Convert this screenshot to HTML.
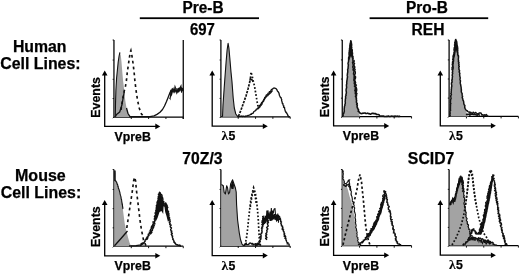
<!DOCTYPE html>
<html><head><meta charset="utf-8"><title>Figure</title>
<style>
html,body{margin:0;padding:0;background:#fff;width:520px;height:274px;overflow:hidden;}
svg{display:block;filter:blur(0.35px);}
text{font-family:"Liberation Sans", sans-serif;font-weight:bold;fill:#000;stroke:#000;stroke-width:0.25px;}
.hd{font-size:15.6px;}
.sd{font-size:15.7px;}
.ev{font-size:12.4px;text-anchor:middle;}
.lb{font-size:12.3px;}
.lam{font-family:"Liberation Serif",serif;font-size:13.5px;stroke-width:0.1px;}
.fr{fill:none;stroke:#000;stroke-width:1.25;}
.tk{fill:none;stroke:#111;stroke-width:1;}
.ax{fill:none;stroke:#000;stroke-width:1.3;}
.ah{fill:#000;stroke:none;}
.gf{fill:#a3a3a3;stroke:none;}
.bf{fill:#111;stroke:none;}
.gl{fill:none;stroke:#111;stroke-width:1.1;stroke-linejoin:round;}
.sl{fill:none;stroke:#111;stroke-width:1.3;stroke-linejoin:round;}
.sl2{fill:none;stroke:#111;stroke-width:1.5;stroke-linejoin:round;}
.br{fill:none;stroke:#111;stroke-width:1.05;stroke-linejoin:miter;}
.sl3{fill:none;stroke:#111;stroke-width:1.6;stroke-linejoin:round;}
.sn{fill:none;stroke:#111;stroke-width:1.4;stroke-linejoin:round;}
.dl{fill:none;stroke:#111;stroke-width:1.65;stroke-dasharray:2.8 3.1;}
.dl2{fill:none;stroke:#111;stroke-width:1.7;stroke-dasharray:2.4 2.3;}
.dd{fill:none;stroke:#111;stroke-width:1.7;stroke-dasharray:2.4 1.1;}
.ol{fill:none;stroke:#111;stroke-width:1.7;stroke-dasharray:1.7 1.9;}
.ol2{fill:none;stroke:#111;stroke-width:1.7;stroke-dasharray:1.7 1.9;}
</style></head>
<body><svg width="520" height="274" viewBox="0 0 520 274">
<text x="182.45" y="13.4" class="hd" textLength="41.22" lengthAdjust="spacingAndGlyphs">Pre-B</text>
<text x="405.92" y="13.4" class="hd" textLength="42.1" lengthAdjust="spacingAndGlyphs">Pro-B</text>
<text x="189.97" y="35" class="hd" textLength="24.97" lengthAdjust="spacingAndGlyphs">697</text>
<text x="411.55" y="34.7" class="hd" textLength="32.97" lengthAdjust="spacingAndGlyphs">REH</text>
<text x="182.37" y="164.3" class="hd" textLength="40.2" lengthAdjust="spacingAndGlyphs">70Z/3</text>
<text x="407.87" y="163.6" class="hd" textLength="46.52" lengthAdjust="spacingAndGlyphs">SCID7</text>
<rect x="139.8" y="17.3" width="119.2" height="1.8" fill="#000"/>
<rect x="369.6" y="17.3" width="118.6" height="1.8" fill="#000"/>
<text x="12.9" y="51.9" class="sd" textLength="53.6" lengthAdjust="spacingAndGlyphs">Human</text>
<text x="0.2" y="69.1" class="sd" textLength="80.4" lengthAdjust="spacingAndGlyphs">Cell Lines:</text>
<text x="15" y="180.6" class="sd" textLength="50.8" lengthAdjust="spacingAndGlyphs">Mouse</text>
<text x="0.8" y="197.7" class="sd" textLength="80.4" lengthAdjust="spacingAndGlyphs">Cell Lines:</text>
<path d="M113.95,40 V117 H183.25" class="fr"/>
<path d="M183.25,40 V119" class="fr"/>
<path d="M131.28,117 v2" class="tk"/>
<path d="M148.6,117 v2" class="tk"/>
<path d="M165.93,117 v2" class="tk"/>
<path d="M183.25,117 v2" class="tk"/>
<path d="M113.95,117 l-1.2,1.2" class="tk"/>
<path d="M113.95,40 h-1.3" class="tk"/>
<path d="M113.95,60.05 h-1.3" class="tk"/>
<path d="M113.95,79.3 h-1.3" class="tk"/>
<path d="M113.95,98.55 h-1.3" class="tk"/>
<path d="M104.7,74.6 V126.4 H156.3" class="ax"/>
<path d="M104.7,70.6 l-2.8,5 h5.6 z" class="ah"/>
<path d="M160.3,126.4 l-5,-2.8 v5.6 z" class="ah"/>
<text x="99.8" y="97.4" class="ev" transform="rotate(-90 99.8 97.4)">Events</text>
<text x="114.55" y="140.9" class="lb">VpreB</text>
<polygon points="115.3,117 115.5,104 115.9,90 116.6,78 117.4,70 118.2,62 119.1,56 119.9,52.3 120.8,55.5 121.5,62 122.3,72 123,80 124.2,90 125.2,100 126.5,108 128,113.5 130,117" class="gf"/>
<polyline points="115.3,117 115.5,104 115.9,90 116.6,78 117.4,70 118.2,62 119.1,56 119.9,52.3" class="gl"/>
<polyline points="115.5,116.5 116.5,114.5 119.7,112 121.9,105 124.2,92" class="sl"/>
<polyline points="126.5,108 128,113.5 130,116.7 150,116.6 154,115.8 157,114.4 160,112.3 162.5,109.5 164.5,106 166.5,101.5 168.3,97 170,92.5 171.5,89.5" class="sl"/>
<polyline points="169.5,97.88 169.71,98.17 169.93,97.98 170.14,98.47 170.36,96.44 170.57,97.18 170.79,90.18 171,92.75 171.3,95.69 171.6,93.07 171.9,94.39 172.2,88.22 172.5,90.28 173.12,88.55 173.75,90.57 174.38,90.66 175,86.49 175.6,88.06 176.2,88.61 176.8,93.3 177.4,92.31 178,88.05 178.6,92.44 179.2,87.5 179.8,90.75 180.4,87.01 181,85.91 181.55,92.55 182.1,88.16 182.65,88.58 183.2,91" class="br"/>
<polyline points="170.5,96.47 170.83,95.94 171.17,93.59 171.5,91.81 171.83,89.84 172.17,92.48 172.5,90.85 173.2,92.2 173.9,90.17 174.6,92.05 175.3,89.46 176,92.01 176.8,91.55 177.6,89.87 178.4,90.39 179.2,91.01 180,88.46 180.8,90.39 181.6,91.78 182.4,89.2 183.2,90.5" class="br"/>
<polyline points="121,110 122.5,100 124,92 125.5,86 126.5,80 127.3,72 128.5,64 129.5,57 130.3,52 130.9,50.5 131.8,55 133,63 134.1,72 134.8,80 136,90 137.5,100 139.2,108 141.5,114 144,117" class="dl"/>
<path d="M220.9,40 V116.8 H290.2" class="fr"/>
<path d="M238.22,116.8 v2" class="tk"/>
<path d="M255.55,116.8 v2" class="tk"/>
<path d="M272.88,116.8 v2" class="tk"/>
<path d="M290.2,116.8 v2" class="tk"/>
<path d="M220.9,116.8 l-1.2,1.2" class="tk"/>
<path d="M220.9,40 h-1.3" class="tk"/>
<path d="M220.9,60 h-1.3" class="tk"/>
<path d="M220.9,79.2 h-1.3" class="tk"/>
<path d="M220.9,98.4 h-1.3" class="tk"/>
<path d="M212.2,74.6 V126.2 H263.8" class="ax"/>
<path d="M212.2,70.6 l-2.8,5 h5.6 z" class="ah"/>
<path d="M267.8,126.2 l-5,-2.8 v5.6 z" class="ah"/>
<text x="221.5" y="140.4" class="lam">λ</text>
<text x="228.4" y="140.4" class="lb">5</text>
<polygon points="222.5,116.8 223,105 223.9,92 224.9,78 226.1,62 227.1,50 228.1,43.4 228.9,48 229.8,58 231,72 232,82 233.2,98 234.3,108 235.8,114 238,116.8" class="gf"/>
<polyline points="222.5,116.8 223,105 223.9,92 224.9,78 226.1,62 227.1,50 228.1,43.4 228.9,48 229.8,58 231,72 232,82 233.2,98 234.3,108 235.8,114 238,116.8 242,116.3" class="gl"/>
<polyline points="239.99,116.17 240.83,116.37 241.65,116.03 242.51,116.59 243.32,116.03 244.17,116.28 245.1,116.57 245.81,115.88 246.78,116.14 247.56,115.7 248.35,115.31 249.2,115.15 250.04,114.86 250.59,114.23 251.59,114.23 251.95,113.33 252.92,113.29 253.52,112.73 253.7,111.7 254.43,111.26 255.15,110.82 255.95,110.45 256.13,109.46 256.99,109.16 257.4,108.43 258.21,107.99 258.81,107.4 259.19,106.64 259.28,105.67 260.19,105.31 260.45,104.47 261.26,103.86 261.48,102.89 262.31,102.29 262.87,101.53 263.24,100.66 263.74,99.91 264.24,99.16 264.57,98.3 264.76,97.34 265.86,96.99 265.98,95.98 266.27,95.02 267.16,94.56 267.74,93.85 268.2,93.02 269.29,92.79 269.35,91.65 270.46,91.56 270.83,90.73 271.2,89.9 271.93,89.39 272.81,88.9 273.47,88.08 274.42,88.02 275.45,88.28 276.12,88.72 276.64,89.35 277.08,90.03 277.31,90.82 277.76,91.49 278.38,92.05 278.8,92.85 279.15,93.67 279.24,94.6 279.48,95.48 279.89,96.28 280.21,97.1 281.19,97.72 281.14,98.69 281.71,99.45 281.57,100.45 281.86,101.31 282.16,102.16 282.2,103.11 283.02,103.7 282.88,104.64 283.28,105.38 283.89,106.05 283.52,107.08 284.59,107.58 284.53,108.49 284.8,109.26 285.09,110.03 285.1,110.93 285.79,111.52 285.85,112.39 286.66,112.91 286.91,113.69 287.58,114.24 287.59,115.16 288.16,115.77 288.45,116.75 290,116.8" class="sl"/>
<polyline points="258.18,109.3 257.95,108.09 258.98,107.87 259.29,107.09 260.15,106.74 260.23,105.78 261.15,105.43 260.97,104.34 262.11,104.14 262.08,103.15 262.34,102.36 262.92,101.78 263.61,101.27 263.62,100.2 264.41,99.67 264.6,98.72 265.14,98.02 265.73,97.35 266.29,96.63 266.93,95.94 267.91,95.54 268.24,94.59 269.17,94.15 269.77,93.49 270.37,92.93 271.01,92.41 271.35,91.58 272.02,91.09 272.5,90.4" class="sn"/>
<polyline points="238.5,116.3 241,110 243.5,103 246,96 248,89 249.5,83 250.5,78" class="dd"/>
<polyline points="250.5,78 251,72 252.2,76 253,80 254.5,86 255.5,92 256.5,98 257.5,104 258.5,108" class="ol"/>
<polyline points="249.5,80 252,79.5 253,82" class="sl"/>
<path d="M342.25,40 V116.5 H411.55" class="fr"/>
<path d="M359.57,116.5 v2" class="tk"/>
<path d="M376.9,116.5 v2" class="tk"/>
<path d="M394.23,116.5 v2" class="tk"/>
<path d="M411.55,116.5 v2" class="tk"/>
<path d="M342.25,116.5 l-1.2,1.2" class="tk"/>
<path d="M342.25,40 h-1.3" class="tk"/>
<path d="M342.25,59.92 h-1.3" class="tk"/>
<path d="M342.25,79.05 h-1.3" class="tk"/>
<path d="M342.25,98.17 h-1.3" class="tk"/>
<path d="M333.6,74.6 V125.9 H385.2" class="ax"/>
<path d="M333.6,70.6 l-2.8,5 h5.6 z" class="ah"/>
<path d="M389.2,125.9 l-5,-2.8 v5.6 z" class="ah"/>
<text x="328.7" y="96.9" class="ev" transform="rotate(-90 328.7 96.9)">Events</text>
<text x="342.85" y="140.4" class="lb">VpreB</text>
<polygon points="342.9,116.5 343.6,113 344.3,110 345.5,100 346.7,85 347.5,75 348.4,62 349.3,52 350,45 350.8,40.5 351.6,45 352.4,54 353.1,65 354.1,77 355,87 356,97 357.2,106 358.4,111.5 360,116.5" class="gf"/>
<polygon points="348.9,61 349.5,50 350.2,42 350.8,40 351.5,42 352.2,50 352.9,61 351,56" class="bf"/>
<polyline points="342.8,116.48 343.2,115.35 343.08,114.11 343.88,113.07 344.02,112.04 344.36,111.07 344.16,109.98 344.23,109.07 344.25,108.15 344.44,107.25 344.45,106.33 344.96,105.47 344.87,104.54 345.25,103.66 345.33,102.75 345.19,101.81 345.19,100.89 345.41,99.99 345.29,99.04 345.74,98.13 345.54,97.17 345.59,96.23 346.11,95.33 345.91,94.37 346.29,93.46 346.39,92.52 346.27,91.57 346.1,90.61 346.11,89.67 346.25,88.74 346.62,87.82 346.56,86.88 346.5,85.93 346.41,84.98 346.68,84.08 346.78,83.18 346.66,82.25 346.84,81.35 346.94,80.44 347.09,79.54 347.21,78.64 347.32,77.73 347.56,76.83 347.3,75.9 347.26,74.98 347.45,74.06 347.46,73.13 347.74,72.22 347.74,71.28 347.71,70.35 347.64,69.41 348.1,68.51 348.09,67.58 348.15,66.65 348.26,65.72 348.42,64.8 347.99,63.84 348.15,62.92 348.38,62 348.6,61.1 348.57,60.18 348.65,59.27 348.61,58.35 348.66,57.44 349.11,56.57 349.26,55.66 349.05,54.73 349.12,53.82 349,52.89 349.36,52.01 349.23,50.98 349.57,50.01 349.47,48.99 349.68,48 350.02,47.02 349.79,45.99 350.02,45 350.05,44.08 350.31,43.2 350.7,42.34 350.64,41.4 350.8,40.5" class="sl2"/>
<polyline points="351.22,40.43 350.87,41.42 350.64,42.39 351.43,43.17 351.4,44.11 351.73,44.99 351.43,45.84 351.56,46.65 351.72,47.46 351.42,48.31 351.76,49.11 352.19,49.9 352.23,50.72 352.05,51.56 352.06,52.38 352.6,53.16 352.09,54.02 352.51,54.84 352.24,55.71 352.97,56.51 352.8,57.37 353.15,58.2 352.81,59.07 353.02,59.91 352.98,60.76 353.16,61.6 352.59,62.48 352.86,63.32 353.2,64.14 353.1,65 353.48,65.77 352.79,66.64 352.9,67.43 353.3,68.21 353.78,68.97 353.05,69.84 353.85,70.58 354.08,71.36 353.78,72.19 353.89,72.99 353.48,73.83 354.25,74.57 354.4,75.36 354.09,76.2 354.56,76.96 354.01,77.85 354.26,78.67 353.95,79.53 353.97,80.37 354.74,81.14 354.26,82.03 354.63,82.83 354.25,83.71 355.19,84.46 354.89,85.33 354.45,86.21 355.44,86.96 355.28,87.81 355.36,88.65 355.39,89.49 354.84,90.38 355.72,91.14 355.18,92.03 355.82,92.81 355.29,93.7 356.1,94.46 356.23,95.29 355.43,96.22 356.48,96.94 355.97,97.84 356.51,98.6 356.25,99.46 356.62,100.25 356.42,101.11 356.48,101.93 356.52,102.76 357.25,103.5 356.66,104.41 357.35,105.15 357.11,106.02 357.12,106.91 357.37,107.74 357.82,108.51 358.07,109.33 358.62,110.08 358.21,111.24 359.18,111.96 359.92,113.06 360.87,113.55 362.01,113.6 362.79,113.16 363.6,113.3 364.38,112.95 365.19,113.02 365.95,113.55 366.78,113.49 367.65,113.11 368.4,113.58 369.21,113.59 370.02,114.12 370.82,114.09 371.59,113.57 372.38,113.26 373.18,113.33 373.98,113.66 374.83,113.67 375.71,113.55 376.34,114.44 377.17,114.51 378.09,114.45 379,114.68 379.58,115.43 380.2,116.1 381,116.06 381.83,116.11 382.65,116.04 383.48,116.03 384.3,116.5 385.13,116.5 385.96,116.5 386.78,116.32 387.61,116.35 388.43,116.01 389.26,116.5 390.09,116.5 390.91,116.19 391.74,116.11 392.57,116.28 393.39,116.38 394.22,116.5 395.04,116.07 395.87,116.5 396.7,116.24 397.52,116.15 398.35,116.5 399.17,116.15 400,116.5" class="sl3"/>
<polyline points="353.88,59.98 354.26,61.15 353.56,62.42 354.58,63.54 353.94,64.8 354.31,65.98 354.9,67.14 354.29,68.4 355.14,69.54 354.61,70.79 355.29,71.94 355.35,73.15 354.92,74.39 354.38,75.64 355.6,76.75 355.54,77.96 355,79.22 354.59,80.46 355.28,81.61 355.66,82.79 354.84,84.07 356.43,85.13 355.25,86.45 356.27,87.57 356.61,88.75 356.76,89.94 356.57,91.17 355.87,92.45 356.99,93.55 356.46,94.81 356.7,96" class="sn"/>
<path d="M449.1,40 V116.4 H518.4" class="fr"/>
<path d="M466.43,116.4 v2" class="tk"/>
<path d="M483.75,116.4 v2" class="tk"/>
<path d="M501.08,116.4 v2" class="tk"/>
<path d="M518.4,116.4 v2" class="tk"/>
<path d="M449.1,116.4 l-1.2,1.2" class="tk"/>
<path d="M449.1,40 h-1.3" class="tk"/>
<path d="M449.1,59.9 h-1.3" class="tk"/>
<path d="M449.1,79 h-1.3" class="tk"/>
<path d="M449.1,98.1 h-1.3" class="tk"/>
<path d="M440.3,74.6 V125.8 H491.9" class="ax"/>
<path d="M440.3,70.6 l-2.8,5 h5.6 z" class="ah"/>
<path d="M495.9,125.8 l-5,-2.8 v5.6 z" class="ah"/>
<text x="449.1" y="140" class="lam">λ</text>
<text x="456" y="140" class="lb">5</text>
<polygon points="449.8,116.4 450.2,112 450.8,100 451.4,88 452,80 452.7,70 453.4,60 454.2,50 454.8,44 455.6,39.8 456.6,42 457.5,50 458.4,60 459.2,70 460,80 461,90 462.8,100 465.3,110 468.5,116.4" class="gf"/>
<polygon points="453.6,60 454.4,48 455,43 455.6,39.5 456.8,41.5 457.6,50 458.2,58 456,50 455,56" class="bf"/>
<polyline points="449.61,116.38 450.22,115.33 449.74,114.18 450.24,113.11 449.91,111.99 450.07,111.07 450.64,110.17 450.14,109.22 450.48,108.31 450.4,107.38 450.44,106.46 450.52,105.54 450.35,104.6 450.85,103.7 450.37,102.75 450.52,101.84 450.42,100.91 450.64,99.99 450.78,99.07 451.17,98.17 450.85,97.23 450.71,96.29 450.86,95.38 451.42,94.48 450.82,93.52 451.25,92.62 451.13,91.69 451.37,90.77 451.19,89.84 451.49,88.93 451.4,88 451.58,87.01 451.83,86.02 451.68,85 451.45,83.98 451.47,82.98 452.16,82.02 451.92,81 451.79,79.99 452.38,79.11 452.18,78.19 452.35,77.28 452.52,76.38 452.17,75.44 452.28,74.54 452.71,73.65 452.25,72.71 452.76,71.83 452.36,70.89 452.83,70.01 452.9,69.1 453.14,68.2 453.13,67.29 452.96,66.36 452.81,65.44 452.84,64.53 453.17,63.64 453.22,62.73 452.97,61.8 453.62,60.93 453.41,60 453.61,59.1 453.35,58.17 453.44,57.26 453.35,56.34 453.65,55.45 453.67,54.53 453.86,53.63 453.9,52.72 454.29,51.84 454.4,50.93 453.97,49.98 454.23,48.99 454.17,47.98 454.61,47.01 454.93,46.03 454.49,44.98 454.98,44.03 454.82,43.08 454.78,42.14 455.46,41.33 455.33,40.38 455.81,39.41 456.01,40.32 456.51,41.09 456.76,41.99 456.85,43 456.98,43.99 456.98,45.01 457.3,45.98 457.54,46.97 457.66,47.97 457.76,48.97 457.59,50 457.78,50.9 457.55,51.84 457.84,52.73 457.78,53.65 457.67,54.58 458.4,55.43 458.51,56.33 458.51,57.25 458.42,58.17 458.37,59.1 458.33,60.01 458.68,60.9 458.32,61.84 459.07,62.7 458.56,63.66 459.07,64.53 458.67,65.48 459.33,66.34 458.76,67.3 458.97,68.2 458.89,69.12 459.24,70 459.6,70.89 459.12,71.84 459.56,72.72 459.88,73.61 459.59,74.55 459.74,75.45 459.83,76.36 460.12,77.25 460.22,78.16 459.97,79.1 460.13,80 460.46,80.88 460.34,81.81 460.24,82.74 460.35,83.65 460.62,84.54 460.77,85.45 460.9,86.35 461.09,87.25 461.21,88.16 461.14,89.09 461.47,89.95 461.21,90.94 461.38,91.84 461.61,92.74 462.18,93.58 462.11,94.53 462.23,95.45 462.63,96.31 462.19,97.33 462.5,98.21 462.83,99.09 462.86,100.04 463.46,100.89 463.69,101.84 463.75,102.84 463.86,103.82 464.18,104.75 464.87,105.58 464.71,106.63 464.77,107.63 465.17,108.6 465.74,109.56 466.38,110.46 467.48,111.01 468,112" class="sl2"/>
<polyline points="452.06,70 452.01,69.2 452.2,68.41 451.98,67.58 452.53,66.82 452.61,66.02 452.54,65.21 452.22,64.38 452.58,63.6 452.49,62.79 452.5,61.98 453.16,61.17 453.29,60.3 452.64,59.33 453.39,58.53 453.28,57.63 453.21,56.74 453.23,55.86 453.5,55" class="sn"/>
<polyline points="468.03,111.93 468.85,112.09 469.79,111.99 469.96,113.65 470.84,112.33 471.75,113.18 472.63,113.84 473.11,112.1 473.97,112.9 474.68,113.27 475.79,112.43 476.33,113.32 477.04,114.2 477.74,113.63 478.54,114.1 479.18,112.89 480.18,113.01 481.02,113.04 481.5,114.06 481.96,115.12 482.96,114.78 483.63,115.31 484.55,114.72 485.14,115.6 486.27,114.55 486.89,115.18 487.38,116.18 488.09,116.4 489,116.4" class="sn"/>
<polyline points="465.96,114.28 466.74,114.55 467.6,114.23 468.4,114.32 469.22,114.23 469.92,115.29 470.75,114.24 471.48,114.08 472.18,114.33 472.9,114.4 473.6,114.58 474.32,114.56 475.06,114.38 475.74,114.79 476.46,114.84 477.13,115.32 477.9,114.81 478.64,114.67 479.33,114.96 480,115.5" class="sn"/>
<path d="M113.95,169.5 V246.2 H183.25" class="fr"/>
<path d="M131.28,246.2 v2" class="tk"/>
<path d="M148.6,246.2 v2" class="tk"/>
<path d="M165.93,246.2 v2" class="tk"/>
<path d="M183.25,246.2 v2" class="tk"/>
<path d="M113.95,246.2 l-1.2,1.2" class="tk"/>
<path d="M113.95,169.5 h-1.3" class="tk"/>
<path d="M113.95,189.48 h-1.3" class="tk"/>
<path d="M113.95,208.65 h-1.3" class="tk"/>
<path d="M113.95,227.83 h-1.3" class="tk"/>
<path d="M104.7,204.1 V255.8 H156.3" class="ax"/>
<path d="M104.7,200.1 l-2.8,5 h5.6 z" class="ah"/>
<path d="M160.3,255.8 l-5,-2.8 v5.6 z" class="ah"/>
<text x="99.8" y="226.6" class="ev" transform="rotate(-90 99.8 226.6)">Events</text>
<text x="114.55" y="270.1" class="lb">VpreB</text>
<polygon points="114.4,246.2 114.4,181 115.6,180.5 116.3,182.5 117.2,184 118.5,188 119.6,192 121,197 122.4,205 123.6,215 124.8,224 126.5,231.6 128.2,238 129.5,242.5 131,246.2" class="gf"/>
<polyline points="114.9,170.5 115,181" class="sl3"/>
<polyline points="114.8,180.93 115.3,180.88 115.8,181.19 116,181.03 116.2,181.56 116.4,182.15 116.6,182.06 116.8,183.02 117,183.68 117.2,184.41 117.4,183.93 117.56,184.72 117.71,184.93 117.87,186.43 118.03,186.77 118.19,186.36 118.34,188.18 118.5,188.65 118.64,188.72 118.78,189.16 118.91,189.02 119.05,189.32 119.19,190.54 119.32,190.38 119.46,191.07 119.6,191.64 119.74,191.84 119.88,192.95 120.02,193.42 120.16,194.48 120.3,194.53 120.44,195.2 120.58,195.5 120.72,196.23 120.86,196.44 121,196.69 121.09,198.2 121.17,198.69 121.26,198.98 121.35,199.29 121.44,199.24 121.53,199.62 121.61,200.2 121.7,200.4 121.79,201.87 121.88,201.86 121.96,202.99 122.05,202.84 122.14,204.14 122.23,204.49 122.31,203.8 122.4,204.59 122.48,206.07 122.55,205.96 122.62,207.17 122.7,206.86 122.78,206.9 122.85,208.18 122.92,208.89 123,209" class="gl"/>
<polyline points="127.5,231 121,238.5 114.5,245.7" class="sl"/>
<polyline points="129,245.8 136,245.6 141,244.8 144,243.5" class="sl"/>
<polyline points="139.97,245.57 140.63,245.41 141.12,245.03 141.06,243.99 141.41,243.44 142.25,243.51 142.62,242.99 143.64,243.27 144.04,242.69 144.33,242.1 144.67,241.56 145.2,241.16 144.96,240.15 145.73,239.94 145.78,239.16 147.11,239.41 146.37,238.19 147.72,238.18 146.92,237.12 148.07,237.01 147.83,236.22 148.2,235.72 149.09,235.49 148.18,234.37 148.5,233.86 150,233.92 149.68,233.09 149.35,232.25 150.93,232.27 151.09,231.67 150.05,230.62 150.73,230.21 150.52,229.46 151,228.98 151.68,228.57 151.21,227.73 152.23,227.44 151.48,226.5 151.87,225.98 153.06,225.76 152.65,224.96 152.84,224.38 153.28,223.88 153.26,223.24 153.29,222.62 152.91,221.88 154.15,221.6 154.69,221.12 154.87,220.54 154.55,219.82 154.25,219.1 154.42,218.52 155.1,218.06 155.19,217.44 154.42,216.66 154.73,216.08 155.05,215.5 155.39,214.93 155.98,214.4 155.61,213.69 154.98,212.94 156.35,212.56 155.84,211.83 156.1,211.24 155.75,210.53 156.19,209.98 156.23,209.33 156.95,208.8 156,207.98 156.82,207.47 156.34,206.73 157.26,206.23 156.33,205.42 156.82,204.85 157.04,204.23 157.61,203.67 156.8,202.87 157.55,202.39 157.26,201.72 157.49,201.14 157.9,200.59 158.77,200.13 158.13,199.39 158.99,198.93 157.86,198.1 159.16,197.72 158.39,196.95 158.25,196.27 159.26,195.84 159.66,195.27 158.38,194.33 158.93,193.8 159.85,193.34 159.32,192.57 159.7,192" class="sn"/>
<polyline points="159.99,191.83 159.85,192.76 160.23,193.38 160.41,194.13 161.62,194.38 161.74,195.01 162.03,195.58 162.1,196.23 161.6,197.04 162.59,197.41 162.22,198.18 162.83,198.67 162.9,199.31 162.89,199.98 162.46,200.69 162.89,201.23 163.83,201.67 163.59,202.34 163.89,202.9 163.01,203.7 163.21,204.29 163.34,204.88 163.43,205.49 164.31,206.15 164.86,205.68 164.97,204.98 164.6,204.05 165.64,203.82 165.52,202.99 165.63,203.86 166.29,204.38 166.9,204.98 167.11,205.59 167.15,206.23 167.43,206.82 167.83,207.39 166.99,208.21 167.14,208.83 167.01,209.51 167.54,210.04 167.83,210.61 167.66,211.26 168.6,211.72 167.96,212.44 168.38,212.99 168.85,213.53 168.91,214.13 168.57,214.81 169.04,215.34 168.86,215.99 168.75,216.62 169.14,217.18 169.61,217.72 169.21,218.4 169.67,218.94 169.77,219.54 169.92,220.13 169.78,220.77 170.29,221.3 169.59,222.04 169.3,222.72 170.19,223.17 169.86,223.86 169.69,224.52 171.03,224.87 171.01,225.5 170.22,226.28 170.3,226.89 170.69,227.44 171.47,227.93 171.21,228.62 170.67,229.35 170.74,229.99 170.94,230.61 171.87,231.12 171.06,231.89 171.81,232.43 171.43,233.13 172.32,233.66 171.26,234.46 171.86,235.03 171.85,235.7 172.69,236.16 172.29,236.91 172.49,237.53 172.63,238.15 173.09,238.7 172.74,239.45 173.41,239.92 173.73,240.55 174.16,241.15 173.74,242.07 174.75,242.44 174.7,242.97 175.4,243.16 175.56,244.2 176.21,244.47 176.8,244.82 177.76,244.59 178.01,245.42 178.63,245.36 179.28,245.09 179.89,245.05 180.31,246.2 181,245.9" class="sn"/>
<polygon points="159.7,191.5 161.3,194.5 162.8,200 163.6,206 163.2,214 161.5,211 159.5,212 157.5,218 155.5,222 154.8,218 156,210 157.3,203 158.5,196" class="bf"/>
<polygon points="165,203.5 166.3,202.5 167.3,206 168.3,212 169.4,220 168,222 166.5,216 165.2,212 164.5,207" class="bf"/>
<polyline points="149.92,233.76 151.05,233.52 151.22,232.89 151.9,232.47 151.16,231.46 151.39,230.85 152.35,230.54 152.48,229.9 152.21,229.08 153.02,228.71 152.84,227.95 153.62,227.54 152.82,226.61 153.18,226.06 154.41,225.8 153.78,224.93 153.84,224.28 154.86,223.95 154.8,223.27 154.27,222.42 155,222" class="sn"/>
<polyline points="126.8,228 128,220 129.5,210 131,200 132.5,190 133.6,181 134.6,177.3 135.6,181 136.4,190 137.6,200 138.8,210 140,220 141.5,230 143.5,240 146,245.7" class="dl"/>
<path d="M220.9,169.5 V246 H290.2" class="fr"/>
<path d="M238.22,246 v2" class="tk"/>
<path d="M255.55,246 v2" class="tk"/>
<path d="M272.88,246 v2" class="tk"/>
<path d="M290.2,246 v2" class="tk"/>
<path d="M220.9,246 l-1.2,1.2" class="tk"/>
<path d="M220.9,169.5 h-1.3" class="tk"/>
<path d="M220.9,189.43 h-1.3" class="tk"/>
<path d="M220.9,208.55 h-1.3" class="tk"/>
<path d="M220.9,227.68 h-1.3" class="tk"/>
<path d="M212.2,204.1 V255.6 H263.8" class="ax"/>
<path d="M212.2,200.1 l-2.8,5 h5.6 z" class="ah"/>
<path d="M267.8,255.6 l-5,-2.8 v5.6 z" class="ah"/>
<text x="221.5" y="269.6" class="lam">λ</text>
<text x="228.4" y="269.6" class="lb">5</text>
<polygon points="221.4,246 221.4,184.5 223.3,185.8 224.2,192.5 225.4,194 226.7,185.7 227.6,188 228.5,194 229.6,192.5 230.6,184 232.6,179.8 234,184 235.4,188 236.2,192 236.6,205 237.6,220 239.3,233 240.5,239.5 242,244 243.5,246" class="gf"/>
<polyline points="221.4,184.5 223.3,185.8 224.2,192.5 225.4,194 226.7,185.7 227.6,188 228.5,194 229.6,192.5 230.6,184 232.6,179.8 234,184 235.4,188 236.2,192 236.6,205 237.6,220 239.3,233 240.5,239.5 242,244 243.5,246" class="gl"/>
<polygon points="230.6,186 232.6,180.5 234,185 233.5,189 231.5,189" class="bf"/>
<polyline points="243.11,245.14 244.34,245.34 244.91,244.74 245.35,244 246.23,243.04 246.43,244.3 247.09,244.66 248.01,244.52 248.75,244.26 249.35,243.55 249.97,242.9 251.09,243.29 251.69,243.97 252.81,243.44 253.04,244.96 253.91,244.33 254.71,244.17 255.44,243.67 256.58,245.2 257.28,244.58 257.71,244.61 258.66,244.54 259.85,243.94 260.38,244.77 261,245.4" class="sn"/>
<polyline points="255.39,246 255.27,244.65 255.74,244.14 257.14,245.11 257.02,243.64 257.54,243.2 258.56,243.56 258.76,242.93 259.78,242.55 258.96,241.63 260.27,241.34 259.47,240.42 260.09,239.92 260.79,239.45 260.6,238.71 261.17,238.1 260.92,237.41 259.97,236.63 261.38,236.18 261.01,235.47 260.65,234.78 260.55,234.11 261.69,233.62 261.36,232.93 262.01,232.37 261.84,231.7 262.23,231.1 261.7,230.38 262,229.77 261.95,229.12 261.48,228.4 262.68,227.92 261.75,227.14 262.58,226.61 262.95,226.01 262.56,225.31 261.84,224.56 263.02,224.03 262.81,223.4 262.07,222.74 261.9,222.11 262.7,221.54 261.95,220.88 263.41,220.35 262.78,219.69 262.84,219.08 262.7,218.45 263.14,217.86 263.59,217.27 262.65,216.6 263,216" class="sn"/>
<polyline points="278.68,214.93 278.07,215.81 278.41,216.34 279.57,216.55 278.8,217.49 279.37,217.93 280.47,218.17 279.31,219.21 280.56,219.51 280.67,220.16 280.68,220.84 280.61,221.54 281.51,221.95 280.84,222.84 280.8,223.53 281.48,224 281.19,224.71 281.61,225.25 281.45,225.93 282.6,226.28 282.47,226.95 282.45,227.59 283.16,228.05 281.97,228.98 282.64,229.45 283.62,229.83 283.04,230.65 283.47,231.19 283.98,231.7 284.19,232.3 283.89,233.04 284.66,233.49 284.07,234.3 284.31,234.9 285.07,235.31 284.14,236.33 285.63,236.55 285.64,237.26 284.88,238.23 286,238.57 285.9,239.32 285.91,240.04 286.34,240.54 286.51,241.16 286.74,241.75 287.03,242.32 287.9,242.64 287.13,243.84 288.26,243.82 289.04,244.11 289.11,245.05 289.5,245.7" class="sn"/>
<polyline points="262.5,226.47 262.69,220.47 262.88,219.93 263.06,223.32 263.25,217.32 263.44,223.95 263.62,223.27 263.81,215.48 264,221.33 264.29,219.03 264.57,219.85 264.86,222.54 265.14,222.37 265.43,216.09 265.71,219.94 266,218.86 266.4,220.32 266.8,210.49 267.2,219.18 267.6,211.62 268,210.29 268.5,214.72 269,216.89 269.5,217.82 270,211.64 270.67,216.11 271.33,207.97 272,217.19 272.67,210.6 273.33,213.27 274,209.24 274.5,208.69 275,208.58 275.5,214.75 276,214.61 276.38,217.66 276.75,218.51 277.12,214.73 277.5,219.47 277.74,213.61 277.98,221.01 278.22,215.31 278.46,222.8 278.7,219" class="br"/>
<polyline points="263,224.04 263.3,223.86 263.6,225.1 263.9,219.22 264.2,217.76 264.5,222.52 264.8,218.53 265.1,218.26 265.4,220.8 265.7,215.83 266,220.37 266.57,217.08 267.14,213.79 267.71,219.35 268.29,216.58 268.86,212.77 269.43,217.73 270,216.92 270.67,216.76 271.33,216.27 272,218.7 272.67,211.92 273.33,218.74 274,216.5 274.5,214.15 275,217.04 275.5,215.49 276,218.05 276.5,218.8 277,217.92 277.5,215.32 278,218.5" class="br"/>
<polyline points="264,220.68 264.29,220.36 264.57,222.73 264.86,219.78 265.14,219.08 265.43,220.64 265.71,219.93 266,218.28 266.5,219.1 267,221.55 267.5,217.04 268,217.13 268.5,215.92 269,216.94 269.5,215.82 270,220.91 270.5,216.89 271,220.93 271.5,215.78 272,220.42 272.5,218.04 273,219.14 273.5,218.97 274,216.62 274.5,216.65 275,219.58 275.5,216.54 276,216.08 276.5,220.88 277,220.3 277.5,218.31 278,220" class="br"/>
<polyline points="264,222.38 264.25,220.39 264.5,224.01 264.75,219.18 265,220.58 265.25,218.88 265.5,219.07 265.75,223.17 266,215.83 266.4,218.31 266.8,216.3 267.2,217.05 267.6,221.99 268,216.38 268.4,218.36 268.8,216.61 269.2,218.84 269.6,216.33 270,213.86 270.5,215.97 271,215.76 271.5,218.84 272,217 272.5,214.07 273,217.89 273.5,214.89 274,216.6 274.4,214.51 274.8,216.29 275.2,219.54 275.6,217.63 276,219.77 276.4,220.05 276.8,218.95 277.2,219.66 277.6,217.93 278,219" class="br"/>
<polyline points="266.34,240.02 266.59,239.23 265.59,238.37 266.95,237.65 265.71,236.77 266.52,236.02 265.65,235.16 266.76,234.43 265.84,233.57 266.78,232.82 266.85,232.06 267.06,231.21 266.69,230.27 267.51,229.52 267.84,228.7 266.61,227.61 267.38,226.86 268.23,226.06 267.95,225.17 267.55,224.28 267.4,223.4 268.51,222.63 267.2,221.66 268.34,220.89 268,220" class="sn"/>
<polyline points="245,245.2 246.5,238 247.5,230 248.5,220 249.6,210 250.8,200 252.2,193 253.6,187.7 255.3,193 256.5,200 257.5,210 258.3,220 258.8,230 259.3,238 260,245.5" class="ol"/>
<polyline points="250.3,207 251.8,197 253.6,190 255.2,196 256.4,205" class="ol"/>
<path d="M342.25,169.5 V245.7 H411.55" class="fr"/>
<path d="M359.57,245.7 v2" class="tk"/>
<path d="M376.9,245.7 v2" class="tk"/>
<path d="M394.23,245.7 v2" class="tk"/>
<path d="M411.55,245.7 v2" class="tk"/>
<path d="M342.25,245.7 l-1.2,1.2" class="tk"/>
<path d="M342.25,169.5 h-1.3" class="tk"/>
<path d="M342.25,189.35 h-1.3" class="tk"/>
<path d="M342.25,208.4 h-1.3" class="tk"/>
<path d="M342.25,227.45 h-1.3" class="tk"/>
<path d="M333.6,204.1 V255.3 H385.2" class="ax"/>
<path d="M333.6,200.1 l-2.8,5 h5.6 z" class="ah"/>
<path d="M389.2,255.3 l-5,-2.8 v5.6 z" class="ah"/>
<text x="328.7" y="226.1" class="ev" transform="rotate(-90 328.7 226.1)">Events</text>
<text x="342.85" y="269.6" class="lb">VpreB</text>
<polygon points="342.4,245.7 342.4,172 343.4,172 343.8,181 345,184 346.5,186 348,190 349.5,196 351,201 352.4,205 354,215 355.3,225 356.3,234.5 357.6,241 358.8,243.5 360,245.7" class="gf"/>
<polyline points="342.55,170 342.92,170.78 343.3,171.55 342.63,172.42 343.23,173.17 343.24,173.97 343.14,174.79 342.92,175.61 342.58,176.45 343.28,177.2 342.71,178.06 342.81,179.06 343.81,179.97 344.05,180.75 344.42,181.63 344.18,182.87 345.07,183.6 346.03,183.42 346.81,182.97 347.35,182.15 348.03,181.53 348.24,180.33 349.87,179.74 349.04,180.73 349.29,181.59 349.29,182.49 349.62,183.35 349.59,184.25 349.73,185.13 349.53,186.07 350.58,186.73 350.25,187.6 350.59,188.37 350.09,189.26 350.15,190.07 351.01,190.76 351.34,191.53 351.26,192.35 351.3,193.17 350.88,194.07 351.48,194.79 351.26,195.69 351.96,196.39 351.87,197.26 352.44,197.98 352.08,198.91 352.41,199.69 352.19,200.65 352.37,201.46 353.14,202.07 353.93,202.66 353.23,203.8 353.47,204.46 354.11,205.2 354.18,206 353.73,206.85 354.63,207.57 354.71,208.37 354.27,209.22 354.37,210.02 354.44,210.82 354.36,211.64 354.82,212.4 355.01,213.19 355.33,213.97 355.42,214.82 355.31,215.68 355.31,216.53 355.02,217.41 355.24,218.24 355.45,219.08 355.68,219.91 355.47,220.78 355.83,221.6 355.41,222.49 355.67,223.32 355.69,224.18 356.15,224.99 356.05,225.87 355.88,226.75 355.67,227.64 356.26,228.46 356.58,229.3 356.21,230.2 356.96,231.01 356.78,231.89 357.21,232.73 356.66,233.64 357.09,234.45 357.08,235.29 356.76,236.19 357.09,236.97 357.95,237.65 357.62,238.55 358.28,239.27 357.47,240.26 358,241 358.05,242.11 359.12,242.75 359.04,244.09 360.44,244.22 361,245.3" class="gl"/>
<polyline points="343.41,184.07 343.71,184.63 343.84,185.3 344.91,185.29 345.11,186.22 345.95,186.23 346.63,185.92 346.78,184.55 347.78,184.88 348.42,184.5 348.99,184 348.39,184.75 349.2,185.21 349.45,185.78 348.78,186.54 349.39,187.04 350.03,187.54 350.14,188.14 349.97,188.8 350.78,189.26 350.2,190" class="sn"/>
<polyline points="357.94,244.72 358.55,244.45 359.38,244.42 360.21,244.41 360.09,243.24 360.55,242.79 361.19,242.54 362.33,242.83 361.99,241.61 363.18,241.93 363.52,241.39 363.29,240.29 364.23,240.36 364.56,239.81 364.95,239.33 366.24,239.5 365.22,238.09 365.45,237.52 367.16,237.94 366.69,236.9 366.72,236.2 367.25,235.83 367.63,235.37 368.85,235.45 368.07,234.21 368.41,233.72 369.29,233.58 369.57,233.04 370.52,232.87 370.66,232.22 370.23,231.23 370.31,230.55 371.61,230.58 372.17,230.17 371,228.76 372.41,228.85 372.94,228.42 372.92,227.68 372.54,226.79 373.76,226.63 373.92,225.99 373.32,225 374.32,224.74 373.9,223.83 373.89,223.11 374.64,222.74 374.91,222.15 375.28,221.6 375.97,221.2 376.56,220.72 377,220.21 377.25,219.63 377.51,219.05 377.4,218.32 376.81,217.42 376.82,216.75 377.8,216.44 377.9,215.8 378.34,215.29 377.59,214.33 377.97,213.83 379.41,213.65 379.06,212.89 379.41,212.36 378.58,211.44 379.29,211.03 380.35,210.73 380.1,210 380.87,209.61 379.71,208.58 380.34,208.14 381.12,207.75 380.7,206.97 381.47,206.56 381.24,205.86 380.64,205.06 380.77,204.47 382.47,204.32 381.14,203.31 381.44,202.77 381.85,202.25 382.67,201.86 383.08,201.34 382.59,200.57 382.8,200 383.43,199.5 382.65,198.72 382.93,198.15 383.48,197.64 383.64,197.05 382.7,196.24 382.96,195.66 383.12,195.07 384.28,194.68 384.34,194.06 384.96,193.52 384.71,192.81 383.93,192 384.95,191.53 383.75,191 385.01,191.34 385.74,191.8 385.25,192.55 385.55,193.11 385.88,193.66 386.25,194.21 386.25,194.83 385.12,195.77 386.7,196.02 385.87,196.88 386.73,197.31 386.91,197.92 385.97,198.81 387.04,199.19 387.4,199.75 387.08,200.48 386.8,201.17 387.25,201.69 386.81,202.43 387.75,202.82 387.69,203.46 387.49,204.14 388.09,204.62 387.78,205.32 388.37,205.8 389.09,206.25 389.26,206.85 388.25,207.75 388.46,208.37 388.26,209.09 388.85,209.62 389.19,210.21 390.06,210.68 389,211.6 390.43,211.94 390.04,212.7 390.69,213.22 390.41,213.96 390.67,214.57 390.59,215.25 390.21,215.98 390.64,216.56 391.29,217.09 390.47,217.92 390.68,218.54 390.64,219.21 392.17,219.56 391.27,220.4 390.9,221.14 392.15,221.55 392.38,222.17 391.43,223.02 392.35,223.5 392.41,224.15 391.8,224.93 392.7,225.41 393.15,225.98 393.25,226.63 393.15,227.31 392.65,228.08 393.37,228.53 392.81,229.28 394.18,229.57 394.01,230.23 393.49,230.97 393.89,231.49 393.99,232.08 393.37,232.85 394.66,233.16 394.97,233.7 395.37,234.22 394.73,234.99 395.23,235.5 395.11,236.19 396.09,236.54 396.28,237.14 395.81,237.94 395.34,238.73 396.3,239.1 395.43,240.01 396.18,240.44 396.65,240.91 396.41,241.81 397.58,241.85 397.34,242.75 397.3,243.52 398.1,243.79 398.64,244.01 399.44,243.94 399.69,245.02 400.62,244.69 401,245.5" class="sn"/>
<polygon points="366,236.15 366.33,235.93 366.67,235.61 367,236.3 367.33,234.99 367.67,234.94 368,233.2 368.33,233.52 368.67,233.69 369,232.55 369.33,232.89 369.67,232.26 370,230.74 370.32,229.46 370.64,230.42 370.95,228.62 371.27,227.84 371.59,228.73 371.91,228.41 372.23,227.85 372.55,227.54 372.86,225.49 373.18,224.71 373.5,224.24 373.77,225.36 374.05,223.04 374.32,222.55 374.59,221.68 374.86,221.14 375.14,220.53 375.41,220.57 375.68,219.6 375.95,219.3 376.23,219.95 376.5,217.83 376.73,218.54 376.95,217.79 377.18,216.86 377.41,216.29 377.64,216.09 377.86,215.13 378.09,213.82 378.32,213.43 378.55,212.67 378.77,212.39 379,212.97 379.2,211.26 379.4,209.96 379.6,210.18 379.8,210.26 380,208.94 380.2,208.86 380.4,207.05 380.6,206.4 380.8,207.01 381,205.19 381.2,205.1 381.38,204.67 381.56,203.69 381.74,202.77 381.92,202.11 382.1,203.4 382.28,202.28 382.46,202.2 382.64,200.68 382.82,201.01 383,200.23 383.14,199.15 383.27,198.37 383.41,197.74 383.55,196.59 383.68,196.3 383.82,196.4 383.95,194.75 384.09,195.47 384.23,194.2 384.36,193.8 384.5,193 385.5,196 385.39,196.15 385.27,197.47 385.16,197.64 385.05,199.1 384.94,199.62 384.83,200.26 384.71,200.92 384.6,201.24 384.45,200.81 384.31,202.7 384.16,203.35 384.02,202.77 383.87,203.27 383.73,204.85 383.58,204.94 383.44,206.28 383.29,205.86 383.15,206.07 383,207.7 382.82,207.82 382.64,207.85 382.45,209.04 382.27,209.5 382.09,209.58 381.91,211.21 381.73,211.82 381.55,212.97 381.36,212.73 381.18,213.96 381,214.72 380.77,214.56 380.55,214.27 380.32,215.04 380.09,216.08 379.86,216.53 379.64,216.68 379.41,217.44 379.18,219.49 378.95,219.66 378.73,220.26 378.5,221.1 378.23,221.3 377.95,221.78 377.68,222.86 377.41,222.26 377.14,224.24 376.86,224.96 376.59,224.4 376.32,225.82 376.05,226.06 375.77,226.97 375.5,227.06 375.18,227.79 374.86,228.84 374.55,229.3 374.23,229.87 373.91,230.26 373.59,230.65 373.27,230.62 372.95,231.52 372.64,231.25 372.32,233.05 372,232.52 371.65,234.46 371.3,233.05 370.95,235.17 370.6,235.92 370.25,236.2 369.9,235.61 369.55,237.3 369.2,237.8 368.85,237.32 368.5,237.82" class="bf"/>
<polyline points="343,244.9 345,236 347,228 349,220 351,212 353,205 355,198 357,189 358.5,180 360,174.5 361.5,182 362.5,192 363.3,199 364,207 364.8,216 365.6,225 366.8,233 368.3,240 370,245.3" class="dl2"/>
<path d="M449.1,169.5 V245.6 H518.4" class="fr"/>
<path d="M466.43,245.6 v2" class="tk"/>
<path d="M483.75,245.6 v2" class="tk"/>
<path d="M501.08,245.6 v2" class="tk"/>
<path d="M518.4,245.6 v2" class="tk"/>
<path d="M449.1,245.6 l-1.2,1.2" class="tk"/>
<path d="M449.1,169.5 h-1.3" class="tk"/>
<path d="M449.1,189.33 h-1.3" class="tk"/>
<path d="M449.1,208.35 h-1.3" class="tk"/>
<path d="M449.1,227.38 h-1.3" class="tk"/>
<path d="M440.3,204.1 V255.2 H491.9" class="ax"/>
<path d="M440.3,200.1 l-2.8,5 h5.6 z" class="ah"/>
<path d="M495.9,255.2 l-5,-2.8 v5.6 z" class="ah"/>
<text x="449.1" y="269.2" class="lam">λ</text>
<text x="456" y="269.2" class="lb">5</text>
<polygon points="449.6,245.6 449.6,205 451,201 452.5,199 454,201 455.5,195 457,189 458.5,182 460,178 461.5,176.5 462.8,182 463.6,190 464.2,198 464.6,205 466,215 468,225 470.5,234 473,238.5 476,238 480,239 485,240.5 490,242 494,244 497,245.6" class="gf"/>
<polyline points="449.6,204.48 449.78,203.32 449.95,202.53 450.12,205.32 450.3,203.34 450.48,203.34 450.65,202.23 450.82,200.99 451,202.02 451.3,200.94 451.6,201.44 451.9,200.51 452.2,200.89 452.5,198.73 452.8,197.88 453.1,198.26 453.4,201.18 453.7,199.14 454,201.68 454.12,201.03 454.25,198.06 454.38,200.75 454.5,196.95 454.62,200.11 454.75,199.5 454.88,196.25 455,198 455.12,197.52 455.25,194.35 455.38,196.25 455.5,193.34 455.62,196.32 455.75,194.83 455.88,195.61 456,191.04 456.12,191.7 456.25,192.53 456.38,191.98 456.5,189.6 456.62,192.21 456.75,191.52 456.88,188.63 457,187.44 457.11,189.24 457.21,187.59 457.32,188.22 457.43,186.97 457.54,186.04 457.64,183.9 457.75,183.89 457.86,184.82 457.96,185.5 458.07,183.67 458.18,184.58 458.29,183.18 458.39,184.17 458.5,182.68 458.69,180.72 458.88,179.41 459.06,178.59 459.25,177.97 459.44,181.09 459.62,180.65 459.81,179.61 460,176.28 460.38,178.33 460.75,175.61 461.12,178.59 461.5,177.18 461.62,178.1 461.74,177.98 461.85,177.64 461.97,180.03 462.09,181.03 462.21,178.36 462.33,179.72 462.45,181.53 462.56,181.79 462.68,181.11 462.8,182" class="br"/>
<polyline points="449.8,205.4 450.24,203.14 450.68,203.32 451.12,203.8 451.56,201.02 452,201.56 452.62,201.93 453.25,203.36 453.88,200.19 454.5,200.45 454.65,200.74 454.81,201.94 454.96,201.39 455.12,198.23 455.27,200.43 455.42,198.41 455.58,199.38 455.73,198.64 455.88,195 456.04,197.55 456.19,195.15 456.35,193.38 456.5,193.88 456.65,191.85 456.81,193.67 456.96,192.31 457.12,190.13 457.27,189.94 457.42,190.33 457.58,190.69 457.73,188.27 457.88,187.05 458.04,187.32 458.19,185.68 458.35,186.02 458.5,187.34 458.75,184.24 459,184.04 459.25,185.11 459.5,182.43 459.75,181.49 460,181.34 460.25,182.02 460.5,181" class="br"/>
<polyline points="461.7,176.45 461.76,177.17 461.89,177.86 462.2,178.51 462.13,179.25 462.46,179.9 463.1,180.48 462.75,181.29 463.46,181.93 463.43,182.67 463.27,183.42 462.37,184.25 463.12,184.91 463.1,185.64 462.65,186.42 462.75,187.15 463.29,187.83 463.83,188.51 463.49,189.28 463.8,189.99 463.02,190.78 464.36,191.41 463.94,192.17 463.56,192.93 463.73,193.65 463.85,194.37 463.62,195.12 464.4,195.79 463.62,196.58 463.57,197.32 464.85,197.96 464.47,198.69 464.47,199.39 464.48,200.09 464.3,200.8 464.75,201.48 464.23,202.21 463.95,202.93 463.92,203.63 464.08,204.33 464.99,204.95 464.36,205.76 464.42,206.48 464.75,207.16 464.76,207.89 465.4,208.53 464.82,209.34 465.66,209.95 465.32,210.73 465.83,211.38 465.55,212.15 466.34,212.77 466.06,213.53 465.51,214.34 466.33,214.93 465.83,215.78 465.87,216.51 466.28,217.17 466.4,217.89 467.12,218.49 466.88,219.28 466.37,220.13 466.48,220.85 467.21,221.44 467.51,222.13 466.91,222.99 467.65,223.58 467.44,224.37 468.56,224.84 468.51,225.6 467.96,226.5 468.51,227.09 468.39,227.88 469.05,228.44 468.59,229.31 469.98,229.67 469.86,230.45 469.54,231.28 469.9,231.93 469.88,232.68 470.35,233.3 470.25,234.14 470.49,234.85 471.44,235.16 472.16,235.6 472.24,236.4 472.47,237.11 472.04,238.19 473,238.5" class="gl"/>
<polyline points="456.65,190.91 457.11,190.5 456.6,189.84 457.12,189.44 456.84,188.83 456.87,188.31 457.41,187.92 457.28,187.35 457.71,186.93 458.5,186.59 457.53,185.82 458.57,185.55 457.93,184.86 459.08,184.61 459.12,184.09 458.43,183.39 459.51,183.21 459.53,182.63 458.79,181.74 459.49,181.44 460.13,181.12 460.67,180.76 459.77,179.8 460.1,179.35 461.08,179.17 461.56,178.79 460.49,177.75 461.95,177.38 461,178.07 461.77,178.45 461.76,178.97 461.08,179.61 461.37,180.07 461.6,180.55 461.37,181.11 461.67,181.57 461.64,182.09 462,182.54 462.17,183.03 463.1,183.37 461.85,184.06 461.89,184.56 462.82,184.98 462.43,185.52 463.45,185.93 462.72,186.5 462.57,187.02 463.13,187.47 462.99,187.99 462.36,188.55 463.51,188.95 463.05,189.49 463.68,189.94 463.25,190.48 462.5,191.05 462.98,191.52 463.2,192" class="sn"/>
<polyline points="473.05,238.78 473.59,237.44 474.43,237.81 475.16,237.58 475.89,238.46 476.71,238.54 477.41,239.16 478.6,237.8 479.24,238.65 480.27,238.1 480.88,238.68 481.43,239.44 482.41,238.74 483.03,239.28 483.49,240.36 484.26,240.37 485.16,239.96 485.66,240.89 486.25,241.52 487.43,240.2 487.68,241.94 488.46,241.95 489.38,241.48 490.31,241.38 490.26,243.15 491.48,242.37 492.36,242.27 493.03,242.61 493.02,244.29 493.92,244.19 494.51,244.89 495.32,245.07 496.22,245.04 497,245.3" class="sn"/>
<polyline points="468,240.19 468.5,238.28 469,240.35 469.5,238.46 470,240.75 470.5,237.52 471,239.55 471.5,236.91 472,239.86 472.5,239.74 473,236.93 473.5,239.35 474,237.87 474.5,239.3 475,240.9 475.5,238.37 476,238.87 476.5,238.42 477,238.5 477.5,240.37 478,239.15 478.5,239.14 479,241.54 479.5,240.04 480,240.36 480.5,240.5 481,242.67 481.5,240.54 482,242.19 482.5,243.49 483,242.18 483.5,241.18 484,240.75 484.5,242.96 485,241.2 485.5,242.21 486,243.96 486.5,243.93 487,242.01 487.5,242.47 488,242.26 488.5,242.37 489,243.29 489.5,241.87 490,243.5" class="br"/>
<polyline points="462.52,244.42 463.63,245.09 463.49,243.97 464.25,244.14 464.89,244.15 465.45,244.03 465.52,243.23 466,243 465.61,242.08 466.5,242.13 466.72,241.66 467.71,241.78 467.57,241.05 468.17,240.88 468.01,240.13 467.93,239.45 469.21,239.78 469.55,239.18 468.95,238.43 468.64,237.77 469.52,237.51 469.66,237 470.3,236.65 470.17,236.06 470.18,235.5 470.46,235.04 470.29,234.43 469.9,233.74 470.08,233.25 471.74,233.28 471.76,232.71 471.03,231.87 472.22,231.75 471.79,231.01 471.27,230.25 472.72,230.22 472.45,229.55 472.15,229.7 472.86,229.54 473.83,228.85 473.9,229.95 474.04,230.23 474.11,230.82 475.27,230.86 475.2,231.52 475.18,232.16 476.29,232.23 475.44,233.28 475.8,233.73 476.5,233.19 477,234.16 477.5,233.76 478,233.43 478.67,234.07 479.47,233.86 478.97,233.11 478.43,232.35 479.26,232.15 479.93,231.89 480.41,231.55 480.2,230.92 479.28,229.99 481.01,230.17 480.59,229.46 479.92,228.63 480.19,228.2 480.28,227.82 481.41,227.57 480.65,226.85 481.91,226.63 480.82,225.83 481.69,225.52 481.65,224.98 481.07,224.3 481.13,223.78 482.83,223.68 483.08,223.21 481.72,222.34 482.91,222.1 483.48,221.71 483.46,221.18 483.55,220.67 482.71,219.94 483.49,219.59 483.22,219 484.11,218.67 483.81,218.08 484.17,217.64 484.3,217.14 483.59,216.45 484.27,216.08 483.3,215.34 483.61,214.88 485,214.67 484.18,213.96 484.79,213.57 484.71,213.03 484.27,212.41 484.95,212.03 485.62,211.64 484.68,210.94 484.81,210.45 484.62,209.9 484.7,209.39 485.94,209.11 485.82,208.57 486.37,208.15 485.94,207.56 486.55,207.15 485.34,206.41 485.37,205.9 485.52,205.41 485.91,204.96 487.07,204.66 485.82,203.9 486.33,203.48 485.74,202.83 485.79,202.32 486.81,202.02 487.04,201.54 486.96,201 487.78,200.66 487.79,200.14 488.06,199.67 487.51,199.03 487.06,198.41 486.93,197.86 488.16,197.6 487.19,196.87 487.04,196.31 488.36,196.08 487.46,195.36 488.44,195.05 487.81,194.39 488.31,193.97 487.7,193.32 488.44,192.95 488.46,192.44 488.45,191.91 488.33,191.36 489.22,191.03 489.53,190.57 488.77,189.89 488.6,189.33 489.11,188.91 489.97,188.58 489.33,187.91 490.1,187.56 489.19,186.84 490.41,186.58 489.53,185.87 489.78,185.4 490.78,185.09 490.43,184.49 490.83,184.05 490.32,183.42 491.1,183.06 490.56,182.42 490.98,181.99 491.03,181.48 491.96,181.16 491.79,180.6 491.54,180.02 492.17,179.63 491.87,179.04 492.18,178.59 491.92,178.01 492.13,177.54 491.69,176.81 493.09,176.71 492.78,176.02 493.26,175.61 492.71,174.94 493.85,175.23 493.81,175.77 492.56,176.57 492.99,177.02 492.74,177.6 492.87,178.11 494.14,178.37 492.93,179.16 493.7,179.53 493.59,180.06 494.04,180.5 494.58,180.94 494.24,181.5 494.35,181.99 494.72,182.45 494.71,182.96 494.6,183.49 494.99,183.94 495.29,184.41 494.17,185.08 495.04,185.46 495.1,185.97 494.42,186.57 494.65,187.04 495.16,187.49 495.47,187.96 494.66,188.57 495.72,188.94 495.38,189.49 495.6,189.97 494.55,190.61 495.96,190.94 495.4,191.52 495.58,192.01 496.49,192.4 496.32,192.93 495.12,193.59 495.36,194.06 496.45,194.44 496.57,194.91 495.29,195.62 495.99,196.02 495.84,196.56 495.58,197.11 496.8,197.44 496.45,198 495.79,198.61 497.16,198.92 497.11,199.43 496.07,200.1 496.22,200.59 496.87,201 497.63,201.4 496.46,202.09 497.47,202.45 496.74,203.07 497.71,203.44 497.96,203.91 497.07,204.55 497.68,204.97 497.78,205.47 497.74,205.98 497.78,206.49 497.83,206.99 497.59,207.54 498.62,207.9 497.68,208.55 498.09,209 497.57,209.58 498.59,209.95 497.99,210.54 498.88,210.92 498.07,211.55 498.18,212.05 498.51,212.51 498.7,212.99 497.95,213.63 499.08,213.96 499.66,214.38 499.3,214.95 499.89,215.36 498.47,216.12 498.66,216.6 499.89,216.91 499.19,217.54 500.02,217.91 498.95,218.61 499.82,218.97 500.53,219.37 499.59,220.04 500.66,220.38 499.31,221.15 499.36,221.67 500.02,222.04 500.78,222.4 499.96,223.11 501.37,223.32 501.35,223.85 501.12,224.42 501.64,224.83 500.34,225.65 500.82,226.07 500.68,226.62 501.06,227.06 501.93,227.39 501.95,227.91 501.48,228.54 501.27,229.11 501.67,229.55 502.31,229.93 501.59,230.62 502.38,230.96 502.11,231.55 501.84,232.14 502.28,232.56 502.75,232.98 502.63,233.54 503.42,233.88 503.12,234.48 502.54,235.13 503.26,235.49 504.2,235.81 502.91,236.62 504.18,236.86 504.51,237.32 503.66,238.04 503.48,238.63 504.75,238.81 504.32,239.47 504.43,239.98 505.16,240.31 504.43,241.06 505.22,241.38 504.6,242.09 505.07,242.5 505.17,243.01 505.82,243.37 505.19,244.36 506.58,243.77 506.72,244.61 507,245.3" class="sn"/>
<polygon points="478.5,233.84 478.75,233.48 479,233.45 479.25,231.62 479.5,231.11 479.75,230.15 480,229.71 480.25,228.92 480.5,228.58 480.75,228.62 481,228.88 481.15,227.73 481.31,226.55 481.46,225.98 481.62,225.88 481.77,224.61 481.92,223.54 482.08,224.31 482.23,223.29 482.38,221.76 482.54,221.07 482.69,220.5 482.85,221.44 483,219.29 483.14,219.61 483.28,219.61 483.42,217.32 483.55,217.33 483.69,216.88 483.83,217.06 483.97,215.13 484.11,214.64 484.25,214.01 484.38,213.03 484.52,213.54 484.66,213.19 484.8,211.89 484.92,210.55 485.03,211.15 485.15,210.58 485.26,209.81 485.38,208.61 485.49,208.9 485.61,207.93 485.72,207.24 485.84,206.53 485.95,205.37 486.07,205.15 486.18,205.14 486.3,204.33 486.44,203.09 486.57,203.3 486.71,202.7 486.85,200.63 486.98,200.2 487.12,199.68 487.25,198.67 487.39,199.37 487.53,198.54 487.66,197.71 487.8,197.89 487.94,196.11 488.07,195.19 488.21,194.39 488.35,194.17 488.48,194.43 488.62,193.37 488.75,191.75 488.89,191.79 489.03,190.46 489.16,190.86 489.3,189.32 489.44,188.79 489.57,188.98 489.71,188.69 489.85,187.67 489.98,186.45 490.12,186.44 490.25,185.14 490.39,184.02 490.53,183.87 490.66,183.98 490.8,183.23 490.93,181.84 491.07,182.39 491.2,181.76 491.33,180.16 491.47,180.77 491.6,178.91 491.73,177.94 491.87,178.13 492,178.16 492.23,177.05 492.45,176.33 492.67,175.6 492.9,175 493.4,178 493.32,177.83 493.24,178.85 493.16,179.07 493.08,180.41 493,181.54 492.92,182.32 492.84,181.76 492.76,182.19 492.68,182.57 492.6,183.51 492.5,183.97 492.4,184.9 492.3,185.99 492.2,185.81 492.1,186.61 492,187.75 491.9,188.17 491.8,188.84 491.7,188.85 491.6,191.11 491.5,190.88 491.38,190.82 491.26,192.34 491.15,193.19 491.03,193.64 490.91,193.67 490.79,194.18 490.67,195.02 490.55,196.32 490.44,195.9 490.32,197.93 490.2,198.53 490.07,198.59 489.95,198.48 489.82,200.59 489.69,201.35 489.56,200.5 489.44,202.06 489.31,202.48 489.18,203.17 489.05,203.81 488.93,204.58 488.8,204.37 488.68,204.85 488.55,206.13 488.43,206.22 488.31,207.34 488.18,207.86 488.06,208.96 487.94,208.76 487.82,209.74 487.69,210.21 487.57,211.15 487.45,212.46 487.32,211.86 487.2,212.52 487.07,213.69 486.94,213.82 486.81,214.05 486.68,215.27 486.55,216.52 486.42,216.26 486.28,217.87 486.15,217.74 486.02,217.95 485.89,218.6 485.76,220.19 485.63,220.28 485.5,221.48 485.35,221.79 485.19,222.61 485.04,223.07 484.88,223.19 484.73,223.33 484.58,224.51 484.42,224.87 484.27,226.36 484.12,226.1 483.96,227.86 483.81,228.54 483.65,228.33 483.5,228.86 483.25,228.94 483,230.14 482.75,230.96 482.5,231.24 482.25,231.26 482,233.16 481.75,233.6 481.5,234.6 481.25,234.32 481,234.91" class="bf"/>
<polyline points="452,245 456,238 459,231 461.5,224 463.5,216 465,208 466.5,198 467.7,188 468.6,179 469.5,172 471,169.7 472.3,174 473.2,182 474.3,192 475.5,200 477,209 478.8,218 481,226 483.5,233 487,238 490.5,245.1" class="ol2"/>
<polyline points="465.5,205 467,194 468,184 469,176 470.8,172 472.5,178 473.6,188 474.8,197 476.2,206" class="ol"/>
</svg></body></html>
